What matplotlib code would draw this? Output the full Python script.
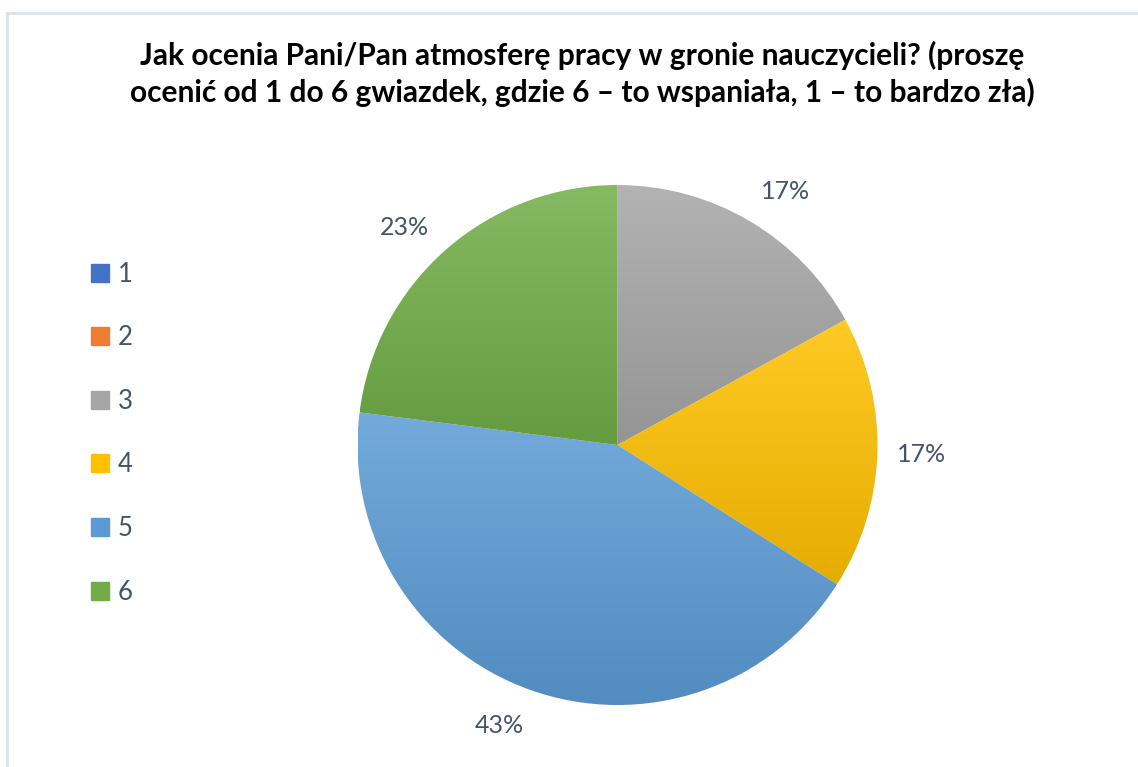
import numpy as np
import matplotlib.pyplot as plt
import matplotlib.colors as mcolors
from matplotlib.lines import Line2D

plt.rcParams['font.family'] = ['Lato', 'DejaVu Sans']

# Data
categories = ['1', '2', '3', '4', '5', '6']
shares = [0, 0, 17, 17, 43, 23]
colors = ['#4472C4', '#ED7D31', '#A5A5A5', '#FFC000', '#5B9BD5', '#70AD47']
title = ('Jak ocenia Pani/Pan atmosferę pracy w gronie nauczycieli? (proszę\n'
         'ocenić od 1 do 6 gwiazdek, gdzie 6 – to wspaniała, 1 – to bardzo zła)')

W, H = 1138, 767
fig = plt.figure(figsize=(W / 100, H / 100), dpi=100)

# light frame (top and left edges visible)
fig.add_artist(Line2D([6.5 / W, 1], [1 - 12.5 / H, 1 - 12.5 / H], color='#DDE2E8', lw=2))
fig.add_artist(Line2D([6.5 / W, 6.5 / W], [0, 1 - 12.5 / H], color='#DDE2E8', lw=2))

# pie axes, centre (617, 445) px, radius 260 px
cx, cy, r = 617.5, 445, 260
ax = fig.add_axes([(cx - r) / W, (H - cy - r) / H, 2 * r / W, 2 * r / H])
ax.set_xlim(-1, 1)
ax.set_ylim(-1, 1)
ax.set_aspect('equal')
ax.axis('off')


def pct(v):
    return f'{v:.0f}%' if v > 0 else ''


wedges, texts, autotexts = ax.pie(
    shares, colors=colors, startangle=90, counterclock=False, radius=1,
    autopct=pct, pctdistance=1.17, wedgeprops=dict(linewidth=0),
    textprops=dict(color='#44546A', fontsize=18))

# vertical gradient in each slice: lighter at top, darker at bottom
for w, c in zip(wedges, colors):
    if w.theta2 - w.theta1 <= 0:
        continue
    base = np.array(mcolors.to_rgb(c))
    top = base + (1 - base) * 0.15
    bot = base * 0.9
    t = np.linspace(0, 1, 256)[:, None]
    grad = top[None, :] * (1 - t) + bot[None, :] * t
    img = np.repeat(grad[:, None, :], 2, axis=1)
    ext = w.get_path().get_extents()
    im = ax.imshow(img, extent=[ext.x0, ext.x1, ext.y0, ext.y1],
                   origin='upper', aspect='auto', zorder=w.get_zorder())
    im.set_clip_path(w)
    w.set_alpha(0)

# nudge labels a little along the rim, as the original places them
for at, da in zip(autotexts, [0, 0, 3, 0, 3, -3]):
    if not at.get_text():
        continue
    x, y = at.get_position()
    a = np.arctan2(y, x) - np.deg2rad(da)
    d = np.hypot(x, y)
    at.set_position((d * np.cos(a), d * np.sin(a)))

ax.set_xlim(-1, 1)
ax.set_ylim(-1, 1)

fig.text(582 / W, 1 - 74 / H, title, ha='center', va='center',
         fontsize=21.5, fontweight='bold', color='#000000', linespacing=1.35)

fig.legend(
    [plt.Rectangle((0, 0), 1, 1, color=c) for c in colors], categories,
    loc='upper left', bbox_to_anchor=(78 / W, 1 - 249 / H), frameon=False,
    fontsize=18.5, labelcolor='#44546A', handlelength=0.7, handleheight=0.7,
    handletextpad=0.35, labelspacing=1.5, borderpad=0)

fig.savefig('out.png', dpi=100, facecolor='white')
